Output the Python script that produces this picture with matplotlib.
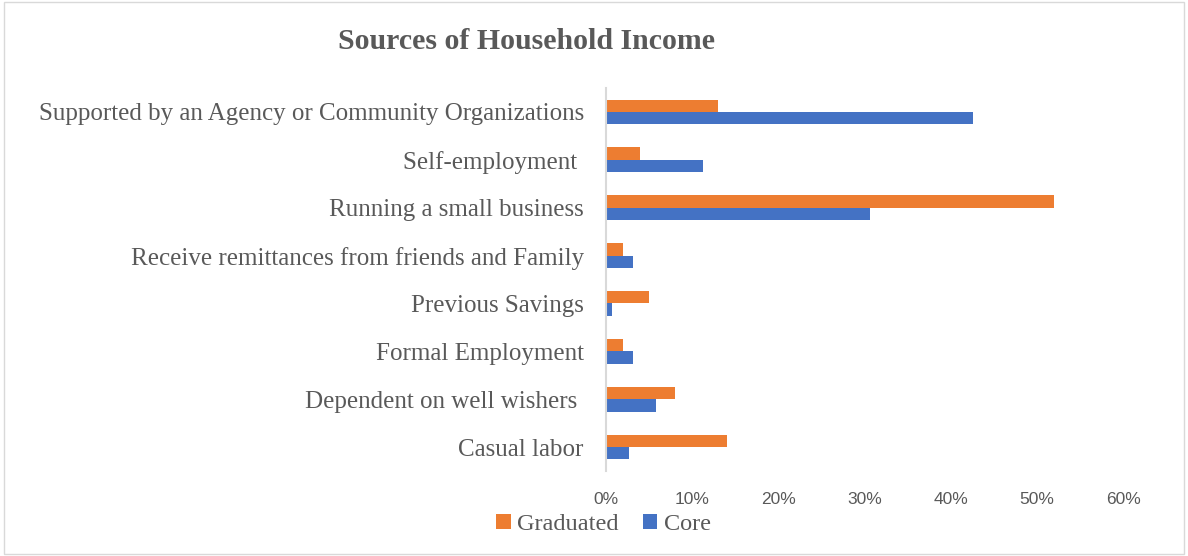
import matplotlib.pyplot as plt
import numpy as np
from matplotlib.patches import Rectangle

# sources of income, listed bottom to top
categories = ["Casual labor", "Dependent on well wishers ", "Formal Employment",
              "Previous Savings", "Receive remittances from friends and Family",
              "Running a small business", "Self-employment ",
              "Supported by an Agency or Community Organizations"]
graduated = [14, 8, 2, 5, 2, 52, 4, 13]
core = [2.7, 5.8, 3.1, 0.7, 3.1, 30.6, 11.2, 42.6]
ticks = [0, 10, 20, 30, 40, 50, 60]

grey = "#595959"
serif = ["Liberation Serif", "DejaVu Serif"]

fig = plt.figure(figsize=(11.88, 5.56), dpi=100)
ax = fig.add_axes([0.5101, 0.1529, 0.4352, 0.6888])

y = np.arange(len(categories))
h = 0.26
ax.barh(y + h / 2, graduated, height=h, color="#ED7D31", label="Graduated")
ax.barh(y - h / 2, core, height=h, color="#4472C4", label="Core")

ax.set_xlim(0, 60)
ax.set_ylim(-0.5, len(categories) - 0.5)
ax.set_xticks(ticks)
ax.set_xticklabels([f"{t}%" for t in ticks], color=grey, fontsize=12.5,
                   family=["Liberation Sans", "DejaVu Sans"])
ax.set_yticks(y)
ax.set_yticklabels(categories, color=grey, fontsize=18, family=serif)
ax.tick_params(axis="x", length=0, pad=15)
ax.tick_params(axis="y", length=0, pad=16)

for s in ["top", "right", "bottom"]:
    ax.spines[s].set_visible(False)
ax.spines["left"].set_color("#d9d9d9")
ax.spines["left"].set_linewidth(1.5)

fig.text(0.443, 0.925, "Sources of Household Income", ha="center", va="center",
         fontsize=21.5, fontweight="bold", color=grey, family=serif)

leg = fig.legend(loc="center", bbox_to_anchor=(0.508, 0.057), ncol=2, frameon=False,
                 handlelength=0.6, handleheight=0.6, handletextpad=0.25,
                 columnspacing=1.0, fontsize=17.5)
for t in leg.get_texts():
    t.set_color(grey)
    t.set_fontfamily(serif)

# outer chart border
fig.patches.append(Rectangle((0.003, 0.003), 0.994, 0.994, transform=fig.transFigure,
                             fill=False, edgecolor="#d9d9d9", linewidth=1))

fig.savefig("out.png", dpi=100)
